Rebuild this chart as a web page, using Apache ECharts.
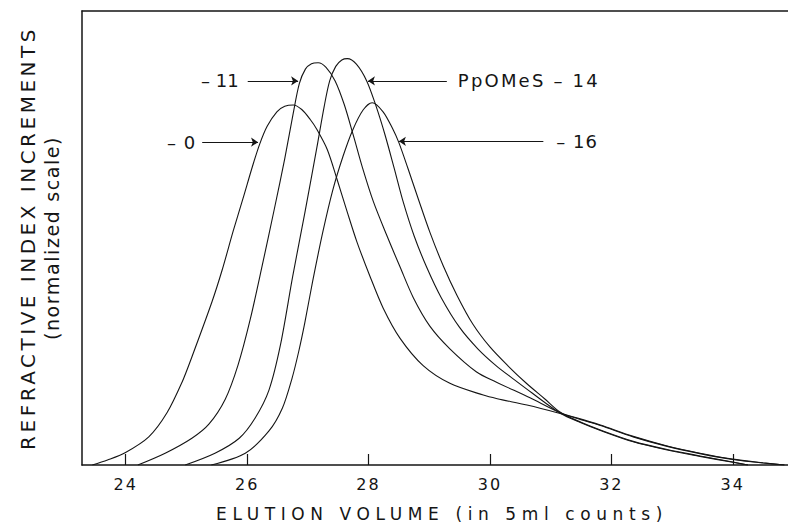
<!DOCTYPE html>
<html>
<head>
<meta charset="utf-8">
<script src="https://cdn.jsdelivr.net/npm/echarts@6/dist/echarts.min.js"></script>
<style>
  html, body { margin: 0; padding: 0; background: #fff; }
  #chart { width: 788px; height: 527px; }
</style>
</head>
<body>
<div id="chart"></div>
<script>
// Axis ticks and titles
const xTicks = [24, 26, 28, 30, 32, 34];
const xTitle = 'ELUTION VOLUME (in 5ml counts)';
const yTitle = 'REFRACTIVE INDEX INCREMENTS';
const ySubtitle = '(normalized scale)';

// Curve labels
const label0 = '– 0';
const label11 = '– 11';
const label14 = 'PpOMeS – 14';
const label16 = '– 16';

// Elution curves: [elution volume, normalized RI increment]
const curve0 = [[23.45,0],[23.7,1.1],[23.99,2.7],[24.38,6.2],[24.68,11.5],[24.93,18.3],[25.09,23.8],[25.42,35.9],[25.59,43.0],[25.77,51.5],[25.93,58.6],[26.1,66.3],[26.21,70.8],[26.33,74.6],[26.49,77.8],[26.62,79.0],[26.76,79.3],[26.9,78.3],[27.04,76.1],[27.15,73.9],[27.32,69.5],[27.48,63.0],[27.65,55.7],[27.81,49.1],[28.02,41.7],[28.24,34.6],[28.52,27.9],[28.9,21.9],[29.34,18.0],[29.89,15.4],[30.12,14.6],[30.61,13.2],[31.11,11.5],[31.5,10.0],[31.82,8.7],[32.36,6.2],[32.92,4.1],[33.46,2.5],[34.0,1.2],[34.5,0.45],[34.85,0]];
const curve11 = [[24.2,0],[24.65,2.6],[25.09,5.9],[25.37,9.0],[25.64,14.5],[25.85,22.0],[26.05,32.0],[26.25,44.0],[26.45,56.5],[26.62,67.5],[26.76,77.5],[26.86,84.0],[26.96,87.2],[27.06,88.4],[27.17,88.6],[27.3,87.6],[27.45,84.6],[27.6,79.4],[27.75,72.6],[27.9,65.5],[28.08,58.0],[28.3,50.6],[28.52,43.6],[28.74,36.8],[29.01,30.6],[29.34,25.6],[29.78,20.5],[30.1,18.3],[30.66,14.8],[31.16,11.5],[31.5,10.1],[31.82,8.8],[32.36,6.3],[32.92,4.2],[33.46,2.6],[34.0,1.3],[34.5,0.5],[34.85,0]];
const curve14 = [[24.98,0],[25.47,2.6],[25.87,5.9],[26.13,10.3],[26.36,16.5],[26.55,26.5],[26.75,41.5],[26.95,55.5],[27.15,70.0],[27.27,79.0],[27.36,84.6],[27.46,87.8],[27.56,89.2],[27.65,89.5],[27.8,88.3],[27.97,84.6],[28.12,79.2],[28.27,72.8],[28.42,65.5],[28.57,58.0],[28.75,50.5],[28.96,43.5],[29.2,36.8],[29.5,30.3],[29.8,25.6],[30.1,21.9],[30.4,18.8],[30.7,15.8],[31.16,11.4],[31.5,9.3],[31.82,7.6],[32.36,5.1],[32.92,3.3],[33.46,1.9],[34.0,0.6],[34.25,0]];
const curve16 = [[25.41,0],[25.97,2.6],[26.36,7.5],[26.58,12.5],[26.74,19.1],[26.85,25.0],[26.95,31.3],[27.08,40.5],[27.25,51.5],[27.41,60.5],[27.58,68.0],[27.74,73.8],[27.91,78.2],[28.06,79.8],[28.24,77.8],[28.4,74.0],[28.5,71.0],[28.65,65.3],[28.82,58.6],[29.01,51.3],[29.23,43.9],[29.46,37.3],[29.72,31.0],[30.0,26.0],[30.3,21.8],[30.6,18.0],[30.9,14.6],[31.16,11.6],[31.5,9.4],[31.82,7.7],[32.36,5.2],[32.92,3.4],[33.46,2.0],[34.0,0.65],[34.25,0]];

// Pointer lines from each label to its curve: [start, arrow tip]
const pointer0 = [[25.26, 71.1], [26.18, 71.1]];
const pointer11 = [[26.01, 84.6], [26.84, 84.6]];
const pointer14 = [[29.29, 84.6], [27.99, 84.6]];
const pointer16 = [[30.88, 71.3], [28.5, 71.3]];

const ink = '#151515';
const font = "'DejaVu Sans', sans-serif";

// Extra tracking for the lettering (applied to the SVG text nodes)
const tracking = {};
tracking[xTitle] = '5.6px';
tracking[yTitle] = '3.5px';
tracking[ySubtitle] = '1.6px';
tracking[label14] = '2.2px';
tracking[label0] = '1px';
tracking[label16] = '1px';
tracking[label11] = '0px';

function curveSeries(name, data, pointer, dist) {
  return {
    type: 'line',
    name: name,
    data: data,
    showSymbol: false,
    smooth: 0.3,
    silent: true,
    animation: false,
    lineStyle: { color: ink, width: 1.1 },
    markLine: {
      silent: true,
      animation: false,
      symbol: ['none', 'arrow'],
      symbolSize: 7,
      lineStyle: { color: ink, width: 1, type: 'solid' },
      emphasis: { disabled: true },
      label: {
        show: true,
        position: 'start',
        distance: dist,
        formatter: name,
        color: ink,
        fontFamily: font,
        fontSize: 18
      },
      data: [[{ coord: pointer[0] }, { coord: pointer[1] }]]
    }
  };
}

const chart = echarts.init(document.getElementById('chart'), null, { renderer: 'svg' });

function applyTracking() {
  document.querySelectorAll('#chart svg text').forEach(function (t) {
    const s = t.textContent;
    let sp = tracking[s];
    if (sp === undefined && /^\d+$/.test(s)) sp = '2px';
    if (sp !== undefined) t.style.letterSpacing = sp;
  });
}
chart.on('finished', applyTracking);
chart.on('rendered', applyTracking);

const axisMin = 23.28, axisMax = 34.91;

chart.setOption({
  backgroundColor: '#fff',
  animation: false,
  grid: { left: 82, right: 0, top: 11, bottom: 60 },
  xAxis: [
    {
      type: 'value',
      position: 'bottom',
      min: axisMin,
      max: axisMax,
      axisLine: { onZero: false, lineStyle: { color: ink, width: 1.5 } },
      axisTick: { show: true, inside: true, length: 11, customValues: xTicks, lineStyle: { color: ink, width: 1.2 } },
      axisLabel: { customValues: xTicks, margin: 11, fontSize: 16, color: ink, fontFamily: font },
      splitLine: { show: false },
      name: xTitle,
      nameLocation: 'middle',
      nameGap: 40,
      nameTextStyle: { fontSize: 17, color: ink, fontFamily: font, padding: [0, 0, 0, 14] }
    },
    {
      type: 'value',
      position: 'top',
      min: axisMin,
      max: axisMax,
      axisLine: { onZero: false, lineStyle: { color: ink, width: 1.5 } },
      axisTick: { show: false },
      axisLabel: { show: false },
      splitLine: { show: false }
    }
  ],
  yAxis: [
    {
      type: 'value',
      position: 'left',
      min: 0,
      max: 100,
      axisLine: { show: true, onZero: false, lineStyle: { color: ink, width: 1.5 } },
      axisTick: { show: false },
      axisLabel: { show: false },
      splitLine: { show: false },
      name: yTitle,
      nameLocation: 'middle',
      nameGap: 44,
      nameTextStyle: { fontSize: 20, color: ink, fontFamily: font }
    },
    {
      type: 'value',
      position: 'left',
      offset: 0,
      min: 0,
      max: 100,
      axisLine: { show: false },
      axisTick: { show: false },
      axisLabel: { show: false },
      splitLine: { show: false },
      name: ySubtitle,
      nameLocation: 'middle',
      nameGap: 21,
      nameTextStyle: { fontSize: 19, color: ink, fontFamily: font }
    }
  ],
  series: [
    curveSeries(label0, curve0, pointer0, 6),
    curveSeries(label11, curve11, pointer11, 9),
    curveSeries(label14, curve14, pointer14, 11),
    curveSeries(label16, curve16, pointer16, 13)
  ]
});
applyTracking();
</script>
</body>
</html>
